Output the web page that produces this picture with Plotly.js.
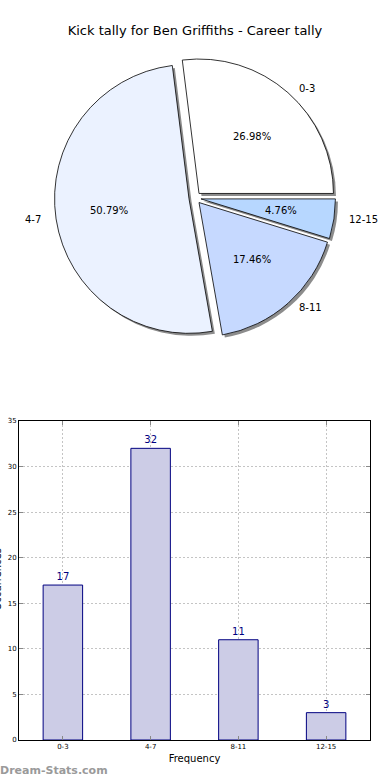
<!DOCTYPE html>
<html>
<head>
<meta charset="utf-8">
<script src="https://cdn.plot.ly/plotly-3.0.1.min.js"></script>
<style>html,body{margin:0;padding:0;background:#fff;}#chart{width:390px;height:780px;}</style>
</head>
<body>
<div id="chart"></div>
<script>
const categories = ["0-3", "4-7", "8-11", "12-15"];
const counts = [17, 32, 11, 3];
const sliceColors = ["#ffffff", "#ebf2ff", "#c6d9ff", "#b7d7ff"];
const chartTitle = "Kick tally for Ben Griffiths - Career tally";
const xTitle = "Frequency";
const yTitle = "Occurrences";
const yTicks = [0, 5, 10, 15, 20, 25, 30, 35];

const W = 390, H = 780;
const font = "DejaVu Sans, Arial, sans-serif";
const cx = 195, cy = 198, D = 281, PULL = 0.045, VSQ = 0.95;
const total = counts.reduce((a, b) => a + b, 0);
const R = D / 2 / (1 + PULL);
const P = PULL * R;
// first slice starts at 3 o'clock and runs counterclockwise (matplotlib default)
const rot = 90 - 360 * counts[0] / total;
function dom(cxp, cyp) {
  return {
    x: [(cxp - D / 2) / W, (cxp + D / 2) / W],
    y: [1 - (cyp + D / 2) / H, 1 - (cyp - D / 2) / H]
  };
}
const pull = categories.map(() => PULL);
const common = {
  type: "pie", labels: categories, values: counts, sort: false,
  direction: "counterclockwise", rotation: rot, pull: pull, hoverinfo: "skip",
  textinfo: "none", showlegend: false
};
const shadow = Object.assign({}, common, {
  domain: dom(cx + 2.5, cy + 2.5),
  marker: {colors: categories.map(() => "#8c8c8c"), line: {width: 0}}
});
const main = Object.assign({}, common, {
  domain: dom(cx, cy),
  marker: {colors: sliceColors, line: {color: "#000000", width: 0.8}}
});

// slice texts: percentage at 0.6 r, label at 1.1 r (from the data's angles)
const pieTexts = [];
let acc = 0;
counts.forEach((v, i) => {
  const a0 = acc / total * 2 * Math.PI;
  acc += v;
  const a1 = acc / total * 2 * Math.PI;
  const am = (a0 + a1) / 2;
  const c = Math.cos(am), s = Math.sin(am) * VSQ;
  const ox = cx + P * c, oy = cy - P * s;
  pieTexts.push({
    text: (100 * v / total).toFixed(2) + "%", xref: "paper", yref: "paper",
    x: (ox + 0.6 * R * c) / W, y: 1 - (oy - 0.6 * R * s) / H,
    xanchor: "center", yanchor: "middle", showarrow: false,
    font: {family: font, size: 10, color: "#000"}
  });
  pieTexts.push({
    text: categories[i], xref: "paper", yref: "paper",
    x: (ox + 1.1 * R * c) / W, y: 1 - (oy - 1.1 * R * s) / H,
    xanchor: c > 0 ? "left" : "right", yanchor: "middle", showarrow: false,
    font: {family: font, size: 10, color: "#000"}
  });
});

const bars = {
  type: "bar", x: categories, y: counts, width: 0.45,
  xaxis: "x", yaxis: "y",
  marker: {color: "#ccccE6", line: {color: "#000080", width: 1}},
  text: counts.map(String), textposition: "outside", cliponaxis: false,
  textfont: {family: font, size: 10, color: "#000080"}, hoverinfo: "skip", showlegend: false
};

const layout = {
  width: W, height: H, margin: {l: 0, r: 0, t: 0, b: 0},
  paper_bgcolor: "#fff", plot_bgcolor: "#fff",
  font: {family: font, color: "#000"},
  title: {text: chartTitle, x: 0.5, xanchor: "center", y: 1 - 30 / H, yanchor: "middle",
          font: {family: font, size: 13, color: "#000"}},
  xaxis: {domain: [19 / W, 370 / W], anchor: "y", range: [-0.5, 3.5], type: "category",
          showline: true, linecolor: "#000", linewidth: 1, mirror: "ticks",
          ticks: "inside", ticklen: 4, tickcolor: "#888",
          showgrid: true, gridcolor: "#c4c4c4", griddash: "2px,2px", gridwidth: 1,
          tickfont: {family: font, size: 7, color: "#000"},
          title: {text: xTitle, standoff: 4, font: {family: font, size: 10, color: "#000"}}},
  yaxis: {domain: [1 - 740 / H, 1 - 421 / H], anchor: "x", range: [0, 35],
          tickvals: yTicks, showline: true, linecolor: "#000", linewidth: 1, mirror: "ticks",
          ticks: "inside", ticklen: 4, tickcolor: "#888", zeroline: false,
          showgrid: true, gridcolor: "#c4c4c4", griddash: "2px,2px", gridwidth: 1,
          tickfont: {family: font, size: 7, color: "#000"}},
  annotations: pieTexts.concat([
    {text: yTitle, xref: "paper", yref: "paper", x: 0, y: 1 - 580 / H, xanchor: "right",
     yanchor: "middle", xshift: 4, textangle: -90, showarrow: false,
     font: {family: font, size: 10, color: "#000"}},
    {text: "<b>Dream-Stats.com</b>", xref: "paper", yref: "paper", x: 0, y: 1 - 770 / H,
     xanchor: "left", yanchor: "middle", xshift: -2, showarrow: false,
     font: {family: font, size: 11, color: "#9a9a9a"}}
  ])
};
Plotly.newPlot("chart", [shadow, main, bars], layout, {displayModeBar: false, staticPlot: true});
</script>
</body>
</html>
